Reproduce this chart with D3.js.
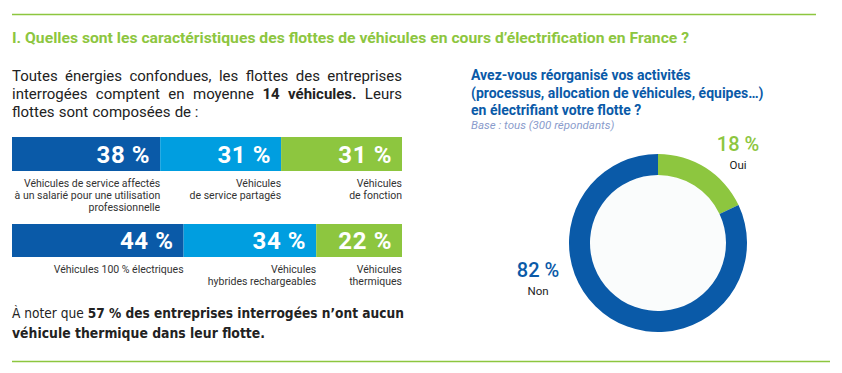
<!DOCTYPE html>
<html>
<head>
<meta charset="utf-8">
<script src="https://cdn.jsdelivr.net/npm/d3@7"></script>
<style>
  body { margin: 0; background: #fff; }
  svg { display: block; font-family: Roboto, "Liberation Sans", sans-serif; }
</style>
</head>
<body>
<svg id="chart" width="842" height="373"></svg>
<script>
// data
const fleetTypes = [
  ['Véhicules de service affectés', 'à un salarié pour une utilisation', 'professionnelle'],
  ['Véhicules', 'de service partagés'],
  ['Véhicules', 'de fonction']
];
const fleetShares = [38, 31, 31];
const energyTypes = [
  ['Véhicules 100 % électriques'],
  ['Véhicules', 'hybrides rechargeables'],
  ['Véhicules', 'thermiques']
];
const energyShares = [44, 34, 22];
const answers = ['Oui', 'Non'];
const answerShares = [18, 82];

const colors = ['#0a5aa8', '#009ee0', '#8dc63f'];
const green = '#8dc63f';
const darkBlue = '#0a5aa8';

const svg = d3.select('#chart');

// separators
svg.append('line').attr('x1', 12).attr('x2', 816).attr('y1', 14.5).attr('y2', 14.5)
  .attr('stroke', green).attr('stroke-width', 1.5);
svg.append('line').attr('x1', 12).attr('x2', 830).attr('y1', 361.5).attr('y2', 361.5)
  .attr('stroke', green).attr('stroke-width', 1.5);

svg.append('text').attr('x', 12).attr('y', 43)
  .attr('fill', green).attr('font-size', 14.5).attr('font-weight', 700)
  .attr('textLength', 677).attr('lengthAdjust', 'spacingAndGlyphs')
  .text('I. Quelles sont les caractéristiques des flottes de véhicules en cours d’électrification en France ?');

// intro paragraph, justified by hand
const introLines = [
  [['Toutes', 0], ['énergies', 0], ['confondues,', 0], ['les', 0], ['flottes', 0], ['des', 0], ['entreprises', 0]],
  [['interrogées', 0], ['comptent', 0], ['en', 0], ['moyenne', 0], ['14', 1], ['véhicules.', 1], ['Leurs', 0]],
  [['flottes', 0], ['sont', 0], ['composées', 0], ['de :', 0]]
];
const introY = [81, 99, 117];
introLines.forEach((words, li) => {
  const g = svg.append('g');
  const nodes = words.map(([w, b]) => g.append('text')
    .attr('y', introY[li]).attr('font-size', 15).attr('fill', '#222')
    .attr('font-weight', b ? 700 : 400).text(w));
  const widths = nodes.map(n => n.node().getComputedTextLength());
  const justify = li < introLines.length - 1;
  const gap = justify ? (390 - d3.sum(widths)) / (words.length - 1) : 4.2;
  let x = 12;
  nodes.forEach((n, i) => { n.attr('x', x); x += widths[i] + gap; });
});

const x = d3.scaleLinear().domain([0, 100]).range([12, 402]);

function stackedRow(shares, labels, y0, h, labelY) {
  let acc = 0;
  const segs = shares.map(v => { const s = { start: acc, end: acc + v, v }; acc += v; return s; });
  const g = svg.append('g');
  g.selectAll('rect').data(segs).join('rect')
    .attr('x', d => x(d.start)).attr('y', y0)
    .attr('width', d => x(d.end) - x(d.start)).attr('height', h)
    .attr('fill', (d, i) => colors[i]);
  g.selectAll('text.val').data(segs).join('text').attr('class', 'val')
    .attr('x', d => x(d.end) - 10).attr('y', y0 + h / 2 + 8.5)
    .attr('text-anchor', 'end').attr('fill', '#fff')
    .attr('font-size', 24).attr('font-weight', 700).attr('letter-spacing', 0.6)
    .text(d => d.v + ' %');
  segs.forEach((d, i) => {
    labels[i].forEach((line, k) => {
      g.append('text').attr('x', x(d.end)).attr('y', labelY + k * 12)
        .attr('text-anchor', 'end').attr('font-size', 10.5).attr('fill', '#333')
        .text(line);
    });
  });
}
stackedRow(fleetShares, fleetTypes, 137, 34, 187);
stackedRow(energyShares, energyTypes, 224, 33, 273);

// bottom note
const note = svg.append('g').attr('font-family', '"DejaVu Sans Condensed", "Liberation Sans Narrow", sans-serif')
  .attr('font-size', 14.5).attr('fill', '#222');
const n1 = note.append('text').attr('x', 12).attr('y', 318).attr('textLength', 392).attr('lengthAdjust', 'spacingAndGlyphs');
n1.append('tspan').text('À noter que ');
n1.append('tspan').attr('font-weight', 700).text('57 % des entreprises interrogées n’ont aucun');
note.append('text').attr('x', 12).attr('y', 338).attr('font-weight', 700)
  .attr('textLength', 253).attr('lengthAdjust', 'spacingAndGlyphs')
  .text('véhicule thermique dans leur flotte.');

// right panel
const q = ['Avez-vous réorganisé vos activités', '(processus, allocation de véhicules, équipes…)', 'en électrifiant votre flotte ?'];
q.forEach((line, i) => {
  svg.append('text').attr('x', 471).attr('y', 80 + i * 17.5)
    .attr('fill', darkBlue).attr('font-size', 14).attr('font-weight', 700).text(line);
});
svg.append('text').attr('x', 471).attr('y', 129)
  .attr('fill', '#8a9ccc').attr('font-size', 11.5).attr('font-style', 'italic')
  .text('Base : tous (300 répondants)');

const cx = 658, cy = 243;
const pie = d3.pie().sort(null)(answerShares);
const arc = d3.arc().innerRadius(68).outerRadius(89);
const donut = svg.append('g').attr('transform', `translate(${cx},${cy})`);
donut.append('circle').attr('r', 68).attr('fill', '#fafcfc');
donut.selectAll('path').data(pie).join('path')
  .attr('d', arc).attr('fill', (d, i) => i === 0 ? green : darkBlue);

const labelPos = [[738, 151], [538, 277]];
const labelCol = [green, darkBlue];
answers.forEach((a, i) => {
  svg.append('text').attr('x', labelPos[i][0]).attr('y', labelPos[i][1])
    .attr('text-anchor', 'middle').attr('font-size', 20).attr('font-weight', 500)
    .attr('fill', labelCol[i]).text(answerShares[i] + ' %');
  svg.append('text').attr('x', labelPos[i][0]).attr('y', labelPos[i][1] + 18)
    .attr('text-anchor', 'middle').attr('font-size', 11.5).attr('fill', '#222').text(a);
});
</script>
</body>
</html>
